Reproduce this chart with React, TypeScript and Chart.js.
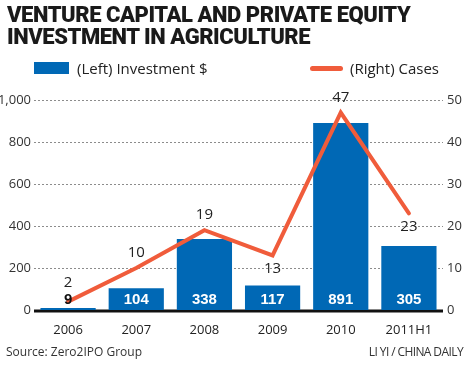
import React, { useEffect, useRef } from "react";
import { Chart, registerables } from "chart.js";

Chart.register(...registerables);

const categories = ["2006", "2007", "2008", "2009", "2010", "2011H1"];
const investment = [9, 104, 338, 117, 891, 305];
const cases = [2, 10, 19, 13, 47, 23];
const leftTicks = [0, 200, 400, 600, 800, 1000];
const rightTicks = [0, 10, 20, 30, 40, 50];
// label placement for the line values: -1 above, +1 below
const casesLabelSide = [-1, -1, -1, 1, -1, 1];

const BLUE = "#0068b5";
const ORANGE = "#f05c3b";
const TICK_FONT = "'Open Sans', sans-serif";

const labelPlugin = {
  id: "valueLabels",
  beforeDatasetsDraw(chart: any) {
    const { ctx, chartArea } = chart;
    const y = chart.scales.y;
    const y0 = y.getPixelForValue(0);
    ctx.save();
    // dashed grid lines
    ctx.strokeStyle = "#8c8c8c";
    ctx.lineWidth = 1;
    ctx.setLineDash([2, 2]);
    leftTicks.forEach((v) => {
      if (v === 0) return;
      const py = Math.round(y.getPixelForValue(v)) + 0.5;
      ctx.beginPath();
      ctx.moveTo(chartArea.left, py);
      ctx.lineTo(chartArea.right, py);
      ctx.stroke();
    });
    ctx.setLineDash([]);
    ctx.strokeStyle = "#111";
    ctx.lineWidth = 3;
    ctx.beginPath();
    ctx.moveTo(chartArea.left, y0 + 1);
    ctx.lineTo(chartArea.right, y0 + 1);
    ctx.stroke();
    ctx.restore();
  },
  afterDatasetsDraw(chart: any) {
    const { ctx } = chart;
    const barMeta = chart.getDatasetMeta(0);
    const lineMeta = chart.getDatasetMeta(1);
    const y = chart.scales.y;
    const y0 = y.getPixelForValue(0);
    ctx.save();
    ctx.textAlign = "center";
    ctx.textBaseline = "middle";
    ctx.font = "bold 15px 'Liberation Sans', Arial, sans-serif";
    barMeta.data.forEach((bar: any, i: number) => {
      const v = investment[i];
      const h = y0 - bar.y;
      ctx.fillStyle = h > 12 ? "#ffffff" : "#111111";
      ctx.fillText(String(v), bar.x, y0 - 10);
    });
    ctx.font = "15px " + TICK_FONT;
    ctx.fillStyle = "#222";
    lineMeta.data.forEach((pt: any, i: number) => {
      const side = casesLabelSide[i];
      const off = i === 0 ? -19 : side < 0 ? -15 : 13;
      ctx.fillText(String(cases[i]), pt.x, pt.y + off);
    });
    ctx.restore();
  },
};

export default function App() {
  const ref = useRef<HTMLCanvasElement>(null);
  useEffect(() => {
    if (!ref.current) return;
    const chart = new Chart(ref.current, {
      type: "bar",
      data: {
        labels: categories,
        datasets: [
          {
            type: "bar",
            label: "(Left) Investment $",
            data: investment,
            backgroundColor: BLUE,
            yAxisID: "y",
            categoryPercentage: 1,
            barPercentage: 0.81,
            order: 2,
          },
          {
            type: "line",
            label: "(Right) Cases",
            data: cases,
            borderColor: ORANGE,
            borderWidth: 4,
            pointRadius: 0,
            tension: 0,
            yAxisID: "y1",
            order: 1,
            borderCapStyle: "round",
            borderJoinStyle: "miter",
          } as any,
        ],
      },
      options: {
        animation: false,
        responsive: false,
        maintainAspectRatio: false,
        layout: { padding: { top: 100, bottom: 30, left: 0, right: 0 } },
        plugins: { legend: { display: false }, tooltip: { enabled: false } },
        scales: {
          x: {
            offset: true,
            grid: { display: false },
            border: { display: false },
            ticks: {
              color: "#222",
              font: { family: TICK_FONT, size: 13 },
              padding: 4,
            },
            afterFit: (s: any) => {
              s.height = 25;
            },
          },
          y: {
            position: "left",
            min: 0,
            max: 1000,
            afterBuildTicks: (s: any) => {
              s.ticks = leftTicks.map((v) => ({ value: v }));
            },
            grid: { display: false, drawTicks: false },
            border: { display: false },
            ticks: {
              color: "#333",
              font: { family: TICK_FONT, size: 13 },
              padding: 3,
              callback: (v: any) => Number(v).toLocaleString("en-US"),
            },
            afterFit: (s: any) => {
              s.width = 34;
            },
          },
          y1: {
            position: "right",
            min: 0,
            max: 50,
            afterBuildTicks: (s: any) => {
              s.ticks = rightTicks.map((v) => ({ value: v }));
            },
            grid: { display: false, drawTicks: false },
            border: { display: false },
            ticks: {
              color: "#333",
              font: { family: TICK_FONT, size: 13 },
              padding: 4,
            },
            afterFit: (s: any) => {
              s.width = 27;
            },
          },
        },
      } as any,
      plugins: [labelPlugin],
    });
    return () => chart.destroy();
  }, []);

  const titleStyle: React.CSSProperties = {
    position: "absolute",
    left: 7,
    fontFamily: "Roboto, 'Liberation Sans', sans-serif",
    fontWeight: 900,
    fontSize: 22,
    lineHeight: "22px",
    letterSpacing: -0.45,
    color: "#1a1a1a",
    whiteSpace: "nowrap",
    margin: 0,
  };
  const textStyle: React.CSSProperties = {
    position: "absolute",
    fontFamily: TICK_FONT,
    fontSize: 15,
    color: "#222",
    whiteSpace: "nowrap",
    lineHeight: "18px",
  };

  return (
    <div style={{ position: "fixed", left: 0, top: 0, width: 470, height: 365, background: "#fff", overflow: "hidden" }}>
      <canvas ref={ref} width={470} height={365} style={{ position: "absolute", left: 0, top: 0, width: 470, height: 365 }} />
      <div style={{ ...titleStyle, top: 4 }}>VENTURE CAPITAL AND PRIVATE EQUITY</div>
      <div style={{ ...titleStyle, top: 26 }}>INVESTMENT IN AGRICULTURE</div>
      <div style={{ position: "absolute", left: 34, top: 62, width: 35, height: 12, background: BLUE }} />
      <div style={{ ...textStyle, left: 77, top: 59 }}>(Left) Investment $</div>
      <div style={{ position: "absolute", left: 310, top: 66, width: 33, height: 5, borderRadius: 3, background: ORANGE }} />
      <div style={{ ...textStyle, left: 350, top: 59 }}>(Right) Cases</div>
      <div style={{ ...textStyle, fontSize: 12, left: 6, top: 343, color: "#333" }}>Source: Zero2IPO Group</div>
      <div style={{ ...textStyle, fontSize: 12, right: 7, top: 343, color: "#333", letterSpacing: -0.6 }}>LI YI / CHINA DAILY</div>
    </div>
  );
}
